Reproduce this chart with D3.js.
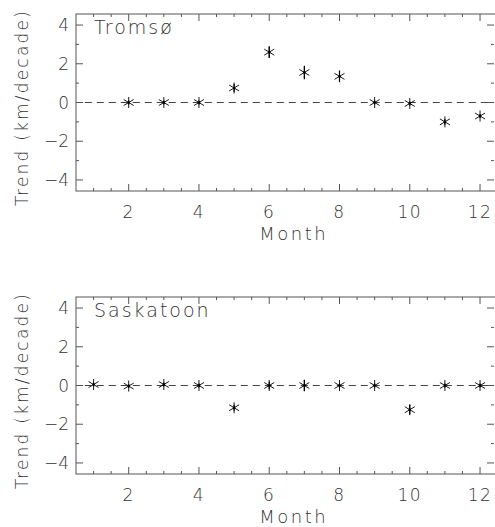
<!DOCTYPE html><html><head><script src="https://cdn.jsdelivr.net/npm/d3@7"></script>
<style>body{margin:0;background:#fff}text{font-family:"DejaVu Sans";font-weight:200;fill:#333}</style></head><body><svg id="c" width="495" height="527"></svg>
<script>
const months=[1,2,3,4,5,6,7,8,9,10,11,12];
const tromsoMonths=[2,3,4,5,6,7,8,9,10,11,12];
const tromsoVal=[0,0,0,0.75,2.6,1.55,1.35,0,-0.05,-1.0,-0.7];
const tromsoErr=[0.1,0.1,0.1,0.2,0.3,0.35,0.3,0.1,0.1,0.15,0.1];
const saskMonths=months;
const saskVal=[0.05,-0.03,0.05,0,-1.15,0,0,0,0,-1.25,0,0];
const saskErr=[0.1,0.1,0.1,0.1,0.15,0.2,0.3,0.1,0.1,0.25,0.1,0.1];
const xTicks=[2,4,6,8,10,12];
const yTicks=[-4,-2,0,2,4];
const svg=d3.select("#c");
function panel(top,bottom,name,mx,vals,errs){
 const x=d3.scaleLinear([0.5,12.5],[76,497.6]);
 const y=d3.scaleLinear([-4.57,4.57],[bottom,top]);
 const g=svg.append("g");
 g.append("rect").attr("x",76).attr("y",top).attr("width",500).attr("height",bottom-top).attr("fill","none").attr("stroke","#555");
 const minorX=d3.range(1,12.51,0.5);
 minorX.forEach(v=>{const L=Number.isInteger(v)&&v%2==0?7:3;
  g.append("line").attr("x1",x(v)).attr("x2",x(v)).attr("y1",bottom).attr("y2",bottom-L).attr("stroke","#555");
  g.append("line").attr("x1",x(v)).attr("x2",x(v)).attr("y1",top).attr("y2",top+L).attr("stroke","#555");});
 d3.range(-4,4.01,1).forEach(v=>{const L=v%2==0?7:3;
  g.append("line").attr("x1",76).attr("x2",76+L).attr("y1",y(v)).attr("y2",y(v)).attr("stroke","#555");
  g.append("line").attr("x1",494).attr("x2",494-L).attr("y1",y(v)).attr("y2",y(v)).attr("stroke","#555");});
 xTicks.forEach(v=>g.append("text").attr("x",x(v)).attr("y",bottom+27).attr("text-anchor","middle").attr("font-size",17).attr("letter-spacing",1.5).text(v));
 yTicks.forEach(v=>g.append("text").attr("x",69).attr("y",y(v)+6).attr("text-anchor","end").attr("font-size",17).text(v<0?"\u2212"+(-v):v));
 g.append("text").attr("x",x(6.5)+7).attr("y",bottom+49).attr("text-anchor","middle").attr("font-size",18).attr("letter-spacing",2.5).text("Month");
 g.append("text").attr("transform",`translate(28,${(top+bottom)/2+5}) rotate(-90)`).attr("text-anchor","middle").attr("font-size",17).attr("letter-spacing",2.2).text("Trend (km/decade)");
 g.append("text").attr("x",94).attr("y",top+20).attr("font-size",19).attr("letter-spacing",2).text(name);
 g.append("line").attr("x1",x(0.75)).attr("x2",494).attr("y1",y(0)).attr("y2",y(0)).attr("stroke","#444").attr("stroke-dasharray","7,5");
 mx.forEach((m,i)=>{const cx=x(m),cy=y(vals[i]);
  g.append("line").attr("x1",cx).attr("x2",cx).attr("y1",y(vals[i]+errs[i])).attr("y2",y(vals[i]-errs[i])).attr("stroke","#000").attr("stroke-width",1.2);
  [[0,5.5],[5,3],[5,-3]].forEach(([dx,dy])=>g.append("line").attr("x1",cx-dx).attr("x2",cx+dx).attr("y1",cy-dy).attr("y2",cy+dy).attr("stroke","#000").attr("stroke-width",0.9));
  g.append("circle").attr("cx",cx).attr("cy",cy).attr("r",1.3).attr("fill","#000");});
}
panel(14,191,"Tromsø",tromsoMonths,tromsoVal,tromsoErr);
panel(297,474,"Saskatoon",saskMonths,saskVal,saskErr);
</script></body></html>
